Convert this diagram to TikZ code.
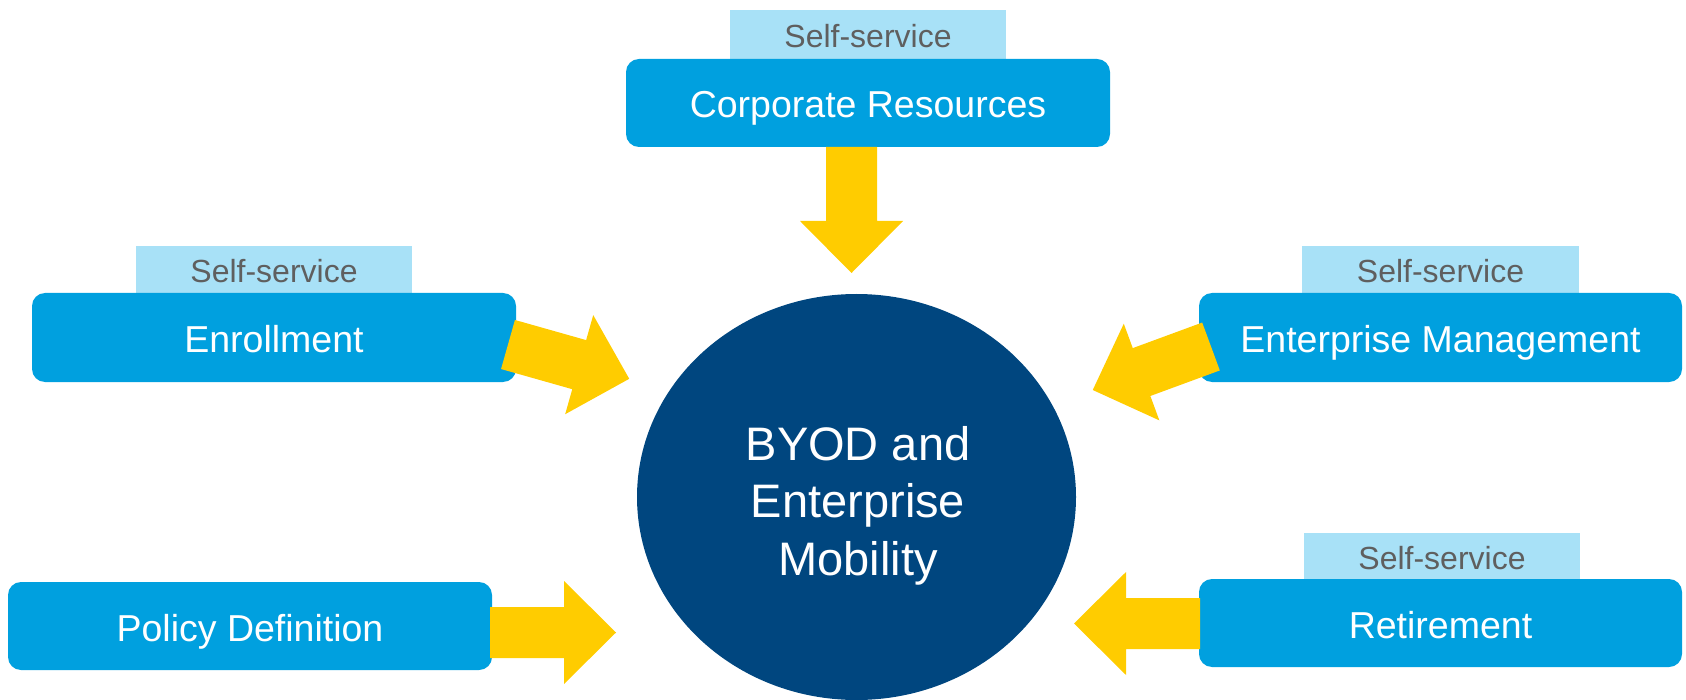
\documentclass[tikz,border=0pt]{standalone}
\usepackage{fontspec}
\setmainfont{Liberation Sans}
\usetikzlibrary{shapes.geometric}
\definecolor{boxblue}{RGB}{0,160,223}
\definecolor{tabblue}{RGB}{168,225,247}
\definecolor{hubblue}{RGB}{0,70,127}
\definecolor{arrowyellow}{RGB}{255,204,0}
\definecolor{graytext}{RGB}{95,95,95}
\tikzset{
  mainbox/.style={fill=boxblue, rounded corners=13pt, inner sep=0pt, text=white,
    font=\fontsize{37.5}{45}\selectfont, text height=30pt, text depth=0pt},
  tabbox/.style={fill=tabblue, inner sep=0pt, text=graytext,
    font=\fontsize{32}{38}\selectfont, text height=26pt, text depth=0pt},
  hub/.style={ellipse, fill=hubblue, inner sep=0pt},
  hubtextstyle/.style={text=white, align=center, inner sep=0pt,
    font=\fontsize{47}{57.5}\selectfont},
  blockarrow/.pic={
    \fill[arrowyellow] (0,-25.5) -- (74,-25.5) -- (74,-51.5) -- (126,0)
      -- (74,51.5) -- (74,25.5) -- (0,25.5) -- cycle;
  }
}
\begin{document}
\begin{tikzpicture}[x=1pt,y=-1pt]
\useasboundingbox (0,0) rectangle (1686,700);
% tabs
\node[tabbox, minimum width=276, minimum height=49] (corptab) at (868,34.5) {Self-service};
\node[tabbox, minimum width=276, minimum height=47] (enrtab) at (274,269.5) {Self-service};
\node[tabbox, minimum width=277, minimum height=47] (emtab) at (1440.5,269.5) {Self-service};
\node[tabbox, minimum width=276, minimum height=46] (rettab) at (1442,556) {Self-service};
% boxes
\node[mainbox, minimum width=484, minimum height=88] (corp) at (868,103) {Corporate Resources};
\node[mainbox, minimum width=484, minimum height=89] (enr) at (274,337.5) {Enrollment};
\node[mainbox, minimum width=483, minimum height=89] (em) at (1440.5,337.5) {Enterprise Management};
\node[mainbox, minimum width=484, minimum height=88] (pol) at (250,626) {Policy Definition};
\node[mainbox, minimum width=483, minimum height=88] (ret) at (1440.5,623) {Retirement};
% hub
\node[hub, minimum width=439, minimum height=406] (hubnode) at (856.5,497) {};
% arrow tails
\coordinate (corptail) at (851.5,147);
\coordinate (enrtail) at (508,344.5);
\coordinate (emtail) at (1211,346.5);
\coordinate (poltail) at (490,632.5);
\coordinate (rettail) at (1200,623.5);
\pic[rotate=-90] at (corptail) {blockarrow};
\pic[rotate=-15.8] at (enrtail) {blockarrow};
\pic[rotate=200.2] at (emtail) {blockarrow};
\pic at (poltail) {blockarrow};
\pic[rotate=180] at (rettail) {blockarrow};
% hub text
\node[hubtextstyle] (hubtext) at (858,505.5) {BYOD and\\Enterprise\\Mobility};
\end{tikzpicture}
\end{document}
